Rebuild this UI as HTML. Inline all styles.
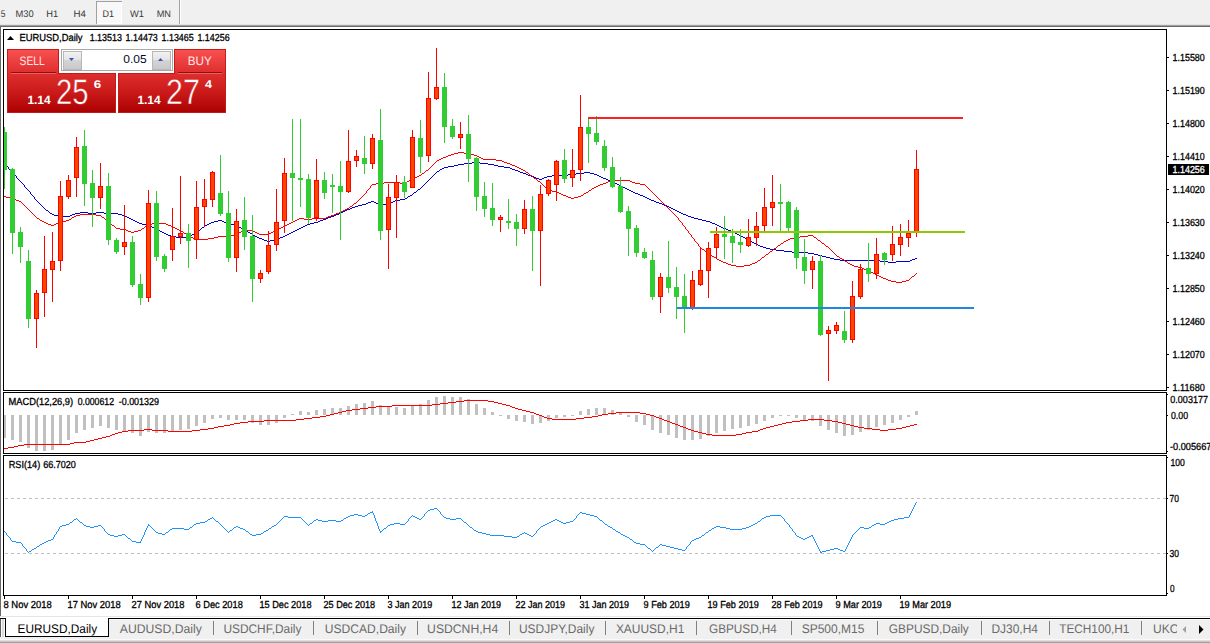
<!DOCTYPE html><html><head><meta charset="utf-8"><title>EURUSD,Daily</title>
<style>html,body{margin:0;padding:0;background:#fff;overflow:hidden}svg{display:block}text{font-family:"Liberation Sans",sans-serif;white-space:pre;text-rendering:geometricPrecision}</style></head><body>
<svg width="1210" height="643" viewBox="0 0 1210 643">
<defs>
<linearGradient id="gr" gradientUnits="userSpaceOnUse" x1="0" y1="49" x2="0" y2="113"><stop offset="0" stop-color="#fa5252"/><stop offset="0.35" stop-color="#e03030"/><stop offset="0.7" stop-color="#c81818"/><stop offset="1" stop-color="#aa0000"/></linearGradient>
<linearGradient id="gb" x1="0" y1="0" x2="0" y2="1"><stop offset="0" stop-color="#f2f2f2"/><stop offset="0.45" stop-color="#e4e4e4"/><stop offset="0.5" stop-color="#d4d4d4"/><stop offset="1" stop-color="#c8c8c8"/></linearGradient>
<clipPath id="cp"><rect x="4" y="30" width="1162" height="360"/></clipPath>
<clipPath id="ct"><rect x="0" y="619" width="1177" height="24"/></clipPath>
</defs>
<g shape-rendering="crispEdges">
<rect x="0" y="0" width="1210" height="643" fill="#fff" />
<rect x="0" y="0" width="1210" height="25" fill="#f0f0f0" />
<rect x="0" y="24" width="1210" height="1" fill="#e3e3e3" />
<rect x="0" y="25" width="1210" height="1" fill="#a0a0a0" />
<rect x="0" y="26" width="1210" height="1" fill="#696969" />
<rect x="0" y="26" width="1" height="590" fill="#696969" />
<rect x="179" y="0" width="1" height="24" fill="#a0a0a0" />
<rect x="180" y="0" width="1" height="24" fill="#fff" />
<rect x="96" y="1" width="26" height="23" fill="#f8f8f8" />
<rect x="96" y="1" width="26" height="1" fill="#a0a0a0" />
<rect x="96" y="1" width="1" height="23" fill="#a0a0a0" />
<rect x="121" y="2" width="1" height="22" fill="#fff" />
<rect x="97" y="23" width="25" height="1" fill="#fff" />
</g>
<text x="0.8" y="17" font-size="9.6" fill="#383838" textLength="4.7" lengthAdjust="spacingAndGlyphs" >5</text>
<text x="15.4" y="17" font-size="9.6" fill="#383838" textLength="18.2" lengthAdjust="spacingAndGlyphs" >M30</text>
<text x="46.3" y="17" font-size="9.6" fill="#383838" textLength="11.9" lengthAdjust="spacingAndGlyphs" >H1</text>
<text x="73.6" y="17" font-size="9.6" fill="#383838" textLength="12.4" lengthAdjust="spacingAndGlyphs" >H4</text>
<text x="102.5" y="17" font-size="9.6" fill="#383838" textLength="11.5" lengthAdjust="spacingAndGlyphs" >D1</text>
<text x="130" y="17" font-size="9.6" fill="#383838" textLength="14" lengthAdjust="spacingAndGlyphs" >W1</text>
<text x="156.7" y="17" font-size="9.6" fill="#383838" textLength="14.3" lengthAdjust="spacingAndGlyphs" >MN</text>
<g shape-rendering="crispEdges">
<rect x="3" y="29" width="1164" height="1" fill="#000" />
<rect x="3" y="390" width="1164" height="1" fill="#000" />
<rect x="3" y="29" width="1" height="362" fill="#000" />
<rect x="1166" y="29" width="1" height="362" fill="#000" />
<rect x="3" y="392" width="1164" height="1" fill="#000" />
<rect x="3" y="453" width="1164" height="1" fill="#000" />
<rect x="3" y="392" width="1" height="62" fill="#000" />
<rect x="1166" y="392" width="1" height="62" fill="#000" />
<rect x="3" y="455" width="1164" height="1" fill="#000" />
<rect x="3" y="595" width="1164" height="1" fill="#000" />
<rect x="3" y="455" width="1" height="141" fill="#000" />
<rect x="1166" y="455" width="1" height="141" fill="#000" />
<rect x="1167" y="57" width="2" height="1" fill="#000" />
<rect x="1167" y="90" width="2" height="1" fill="#000" />
<rect x="1167" y="123" width="2" height="1" fill="#000" />
<rect x="1167" y="156" width="2" height="1" fill="#000" />
<rect x="1167" y="189" width="2" height="1" fill="#000" />
<rect x="1167" y="222" width="2" height="1" fill="#000" />
<rect x="1167" y="255" width="2" height="1" fill="#000" />
<rect x="1167" y="288" width="2" height="1" fill="#000" />
<rect x="1167" y="321" width="2" height="1" fill="#000" />
<rect x="1167" y="354" width="2" height="1" fill="#000" />
<rect x="1167" y="387" width="2" height="1" fill="#000" />
<rect x="1167" y="394" width="1" height="1" fill="#000" />
<rect x="1167" y="415" width="1" height="1" fill="#000" />
<rect x="1167" y="451" width="1" height="1" fill="#000" />
<rect x="1167" y="457" width="1" height="1" fill="#000" />
<rect x="1167" y="498" width="1" height="1" fill="#000" />
<rect x="1167" y="553" width="1" height="1" fill="#000" />
<rect x="1167" y="593" width="1" height="1" fill="#000" />
<rect x="4" y="596" width="1" height="3" fill="#000" />
<rect x="68" y="596" width="1" height="3" fill="#000" />
<rect x="132" y="596" width="1" height="3" fill="#000" />
<rect x="196" y="596" width="1" height="3" fill="#000" />
<rect x="260" y="596" width="1" height="3" fill="#000" />
<rect x="324" y="596" width="1" height="3" fill="#000" />
<rect x="388" y="596" width="1" height="3" fill="#000" />
<rect x="452" y="596" width="1" height="3" fill="#000" />
<rect x="516" y="596" width="1" height="3" fill="#000" />
<rect x="580" y="596" width="1" height="3" fill="#000" />
<rect x="644" y="596" width="1" height="3" fill="#000" />
<rect x="708" y="596" width="1" height="3" fill="#000" />
<rect x="772" y="596" width="1" height="3" fill="#000" />
<rect x="836" y="596" width="1" height="3" fill="#000" />
<rect x="900" y="596" width="1" height="3" fill="#000" />
</g>
<g shape-rendering="crispEdges" clip-path="url(#cp)">
<path d="M24 185h1v2h-1zM16 176h1v2h-1zM8 167h1v2h-1zM34 197h1v2h-1zM30 192h1v2h-1zM171 236h5v1h-5zM189 236h2v1h-2zM255 236h2v1h-2zM283 236h2v1h-2zM741 236h2v1h-2zM42 206h1v1h-1zM355 206h3v1h-3zM667 206h2v1h-2zM162 232h2v1h-2zM196 232h1v1h-1zM248 232h2v1h-2zM291 232h2v1h-2zM733 232h2v1h-2zM164 233h2v1h-2zM194 233h2v1h-2zM250 233h2v1h-2zM289 233h2v1h-2zM735 233h2v1h-2zM28 190h1v1h-1zM417 190h1v1h-1zM629 190h2v1h-2zM413 193h1v1h-1zM635 193h3v1h-3zM784 251h8v1h-8zM444 167h4v1h-4zM504 167h6v1h-6zM259 238h3v1h-3zM278 238h2v1h-2zM745 238h2v1h-2zM4 163h1v1h-1zM464 163h8v1h-8zM480 163h8v1h-8zM38 202h1v1h-1zM368 202h3v1h-3zM374 202h2v1h-2zM391 202h2v1h-2zM656 202h3v1h-3zM18 179h1v1h-1zM429 179h1v1h-1zM539 179h3v1h-3zM606 179h2v1h-2zM25 187h1v1h-1zM421 187h1v1h-1zM623 187h2v1h-2zM139 223h3v1h-3zM209 223h2v1h-2zM227 223h3v1h-3zM310 223h4v1h-4zM712 223h3v1h-3zM760 246h3v1h-3zM32 195h1v1h-1zM410 195h2v1h-2zM640 195h3v1h-3zM472 162h8v1h-8zM752 242h2v1h-2zM840 260h40v1h-40zM910 260h2v1h-2zM880 261h8v1h-8zM896 261h14v1h-14zM157 229h2v1h-2zM200 229h1v1h-1zM243 229h2v1h-2zM297 229h2v1h-2zM726 229h2v1h-2zM814 254h4v1h-4zM137 222h2v1h-2zM211 222h3v1h-3zM224 222h3v1h-3zM314 222h4v1h-4zM710 222h2v1h-2zM168 235h3v1h-3zM191 235h1v1h-1zM253 235h2v1h-2zM285 235h2v1h-2zM739 235h2v1h-2zM129 218h2v1h-2zM326 218h2v1h-2zM694 218h4v1h-4zM160 231h2v1h-2zM197 231h1v1h-1zM247 231h1v1h-1zM293 231h2v1h-2zM731 231h2v1h-2zM37 201h1v1h-1zM371 201h3v1h-3zM393 201h2v1h-2zM654 201h2v1h-2zM142 224h4v1h-4zM207 224h2v1h-2zM230 224h4v1h-4zM307 224h3v1h-3zM715 224h2v1h-2zM166 234h2v1h-2zM192 234h2v1h-2zM252 234h1v1h-1zM287 234h2v1h-2zM737 234h2v1h-2zM40 204h1v1h-1zM362 204h4v1h-4zM379 204h10v1h-10zM662 204h2v1h-2zM15 175h1v1h-1zM433 175h1v1h-1zM528 175h3v1h-3zM552 175h16v1h-16zM597 175h2v1h-2zM5 164h1v1h-1zM458 164h6v1h-6zM488 164h6v1h-6zM46 210h2v1h-2zM345 210h2v1h-2zM675 210h2v1h-2zM50 213h2v1h-2zM75 213h5v1h-5zM88 213h8v1h-8zM104 213h14v1h-14zM339 213h2v1h-2zM681 213h2v1h-2zM58 216h12v1h-12zM125 216h2v1h-2zM331 216h3v1h-3zM688 216h3v1h-3zM135 221h2v1h-2zM214 221h4v1h-4zM222 221h2v1h-2zM318 221h2v1h-2zM706 221h4v1h-4zM7 166h1v1h-1zM448 166h6v1h-6zM498 166h6v1h-6zM23 184h1v1h-1zM424 184h1v1h-1zM617 184h2v1h-2zM264 240h3v1h-3zM270 240h4v1h-4zM749 240h2v1h-2zM19 180h1v1h-1zM428 180h1v1h-1zM608 180h3v1h-3zM14 174h1v1h-1zM434 174h1v1h-1zM526 174h2v1h-2zM568 174h8v1h-8zM594 174h3v1h-3zM763 247h3v1h-3zM39 203h1v1h-1zM366 203h2v1h-2zM376 203h3v1h-3zM389 203h2v1h-2zM659 203h3v1h-3zM35 199h1v1h-1zM400 199h5v1h-5zM649 199h2v1h-2zM431 177h1v1h-1zM534 177h2v1h-2zM544 177h3v1h-3zM601 177h2v1h-2zM52 214h2v1h-2zM72 214h3v1h-3zM118 214h4v1h-4zM336 214h3v1h-3zM683 214h3v1h-3zM262 239h2v1h-2zM274 239h4v1h-4zM747 239h2v1h-2zM17 178h1v1h-1zM430 178h1v1h-1zM536 178h3v1h-3zM542 178h2v1h-2zM603 178h3v1h-3zM36 200h1v1h-1zM395 200h5v1h-5zM651 200h3v1h-3zM146 225h4v1h-4zM205 225h2v1h-2zM234 225h3v1h-3zM305 225h2v1h-2zM717 225h2v1h-2zM766 248h4v1h-4zM48 211h1v1h-1zM343 211h2v1h-2zM677 211h2v1h-2zM44 208h1v1h-1zM350 208h2v1h-2zM671 208h2v1h-2zM21 182h1v1h-1zM426 182h1v1h-1zM613 182h2v1h-2zM888 262h8v1h-8zM133 220h2v1h-2zM218 220h4v1h-4zM320 220h3v1h-3zM702 220h4v1h-4zM152 227h3v1h-3zM202 227h2v1h-2zM239 227h2v1h-2zM301 227h2v1h-2zM721 227h2v1h-2zM407 197h1v1h-1zM645 197h2v1h-2zM13 173h1v1h-1zM435 173h1v1h-1zM523 173h3v1h-3zM576 173h8v1h-8zM590 173h4v1h-4zM49 212h1v1h-1zM80 212h8v1h-8zM96 212h8v1h-8zM341 212h2v1h-2zM679 212h2v1h-2zM176 237h13v1h-13zM257 237h2v1h-2zM280 237h3v1h-3zM743 237h2v1h-2zM10 170h1v1h-1zM439 170h1v1h-1zM515 170h3v1h-3zM159 230h1v1h-1zM198 230h2v1h-2zM245 230h2v1h-2zM295 230h2v1h-2zM728 230h3v1h-3zM27 189h1v1h-1zM418 189h2v1h-2zM627 189h2v1h-2zM776 250h8v1h-8zM6 165h1v1h-1zM454 165h4v1h-4zM494 165h4v1h-4zM43 207h1v1h-1zM352 207h3v1h-3zM669 207h2v1h-2zM792 252h16v1h-16zM822 256h4v1h-4zM155 228h2v1h-2zM201 228h1v1h-1zM241 228h2v1h-2zM299 228h2v1h-2zM723 228h3v1h-3zM150 226h2v1h-2zM204 226h1v1h-1zM237 226h2v1h-2zM303 226h2v1h-2zM719 226h2v1h-2zM834 259h6v1h-6zM912 259h3v1h-3zM41 205h1v1h-1zM358 205h4v1h-4zM664 205h3v1h-3zM442 168h2v1h-2zM510 168h2v1h-2zM127 217h2v1h-2zM328 217h3v1h-3zM691 217h3v1h-3zM423 185h1v1h-1zM619 185h2v1h-2zM9 169h1v1h-1zM440 169h2v1h-2zM512 169h3v1h-3zM830 258h4v1h-4zM915 258h2v1h-2zM12 172h1v1h-1zM436 172h1v1h-1zM520 172h3v1h-3zM584 172h6v1h-6zM770 249h6v1h-6zM826 257h4v1h-4zM432 176h1v1h-1zM531 176h3v1h-3zM547 176h5v1h-5zM599 176h2v1h-2zM131 219h2v1h-2zM323 219h3v1h-3zM698 219h4v1h-4zM11 171h1v1h-1zM437 171h2v1h-2zM518 171h2v1h-2zM45 209h1v1h-1zM347 209h3v1h-3zM673 209h2v1h-2zM808 253h6v1h-6zM26 188h1v1h-1zM420 188h1v1h-1zM625 188h2v1h-2zM22 183h1v1h-1zM425 183h1v1h-1zM615 183h2v1h-2zM54 215h4v1h-4zM70 215h2v1h-2zM122 215h3v1h-3zM334 215h2v1h-2zM686 215h2v1h-2zM414 192h2v1h-2zM633 192h2v1h-2zM758 245h2v1h-2zM405 198h2v1h-2zM647 198h2v1h-2zM31 194h1v1h-1zM412 194h1v1h-1zM638 194h2v1h-2zM422 186h1v1h-1zM621 186h2v1h-2zM29 191h1v1h-1zM416 191h1v1h-1zM631 191h2v1h-2zM754 243h2v1h-2zM818 255h4v1h-4zM267 241h3v1h-3zM751 241h1v1h-1zM20 181h1v1h-1zM427 181h1v1h-1zM611 181h2v1h-2zM33 196h1v1h-1zM408 196h2v1h-2zM643 196h2v1h-2zM756 244h2v1h-2z" fill="#0000cd" />
<path d="M366 191h1v2h-1zM685 227h1v2h-1zM694 239h1v2h-1zM698 244h1v2h-1zM678 218h1v2h-1zM688 231h1v2h-1zM370 186h1v2h-1zM691 235h1v2h-1zM682 223h1v2h-1zM409 180h2v1h-2zM537 180h1v1h-1zM611 180h19v1h-19zM372 184h4v1h-4zM542 184h1v1h-1zM600 184h3v1h-3zM640 184h5v1h-5zM709 254h2v1h-2zM766 254h2v1h-2zM835 254h1v1h-1zM545 187h1v1h-1zM594 187h2v1h-2zM647 187h1v1h-1zM186 234h2v1h-2zM234 234h3v1h-3zM259 234h10v1h-10zM690 234h1v1h-1zM37 218h2v1h-2zM71 218h1v1h-1zM104 218h1v1h-1zM299 218h5v1h-5zM312 218h14v1h-14zM557 192h2v1h-2zM586 192h2v1h-2zM652 192h1v1h-1zM14 199h2v1h-2zM359 199h1v1h-1zM659 199h1v1h-1zM42 221h2v1h-2zM62 221h4v1h-4zM108 221h1v1h-1zM293 221h2v1h-2zM680 221h1v1h-1zM896 282h6v1h-6zM6 197h4v1h-4zM361 197h1v1h-1zM568 197h3v1h-3zM574 197h4v1h-4zM657 197h1v1h-1zM10 198h4v1h-4zM360 198h1v1h-1zM571 198h3v1h-3zM658 198h1v1h-1zM189 236h2v1h-2zM218 236h12v1h-12zM800 236h8v1h-8zM813 236h1v1h-1zM33 214h1v1h-1zM80 214h16v1h-16zM334 214h2v1h-2zM674 214h1v1h-1zM376 183h8v1h-8zM400 183h5v1h-5zM541 183h1v1h-1zM603 183h3v1h-3zM635 183h5v1h-5zM432 165h1v1h-1zM512 165h3v1h-3zM32 213h1v1h-1zM336 213h3v1h-3zM673 213h1v1h-1zM191 237h2v1h-2zM214 237h4v1h-4zM692 237h1v1h-1zM794 237h6v1h-6zM814 237h2v1h-2zM701 248h1v1h-1zM774 248h2v1h-2zM829 248h1v1h-1zM726 263h2v1h-2zM752 263h3v1h-3zM848 263h2v1h-2zM195 239h13v1h-13zM788 239h2v1h-2zM817 239h1v1h-1zM723 262h3v1h-3zM755 262h2v1h-2zM847 262h1v1h-1zM443 157h3v1h-3zM479 157h2v1h-2zM384 182h16v1h-16zM405 182h2v1h-2zM540 182h1v1h-1zM606 182h2v1h-2zM632 182h3v1h-3zM126 230h2v1h-2zM138 230h3v1h-3zM179 230h2v1h-2zM243 230h10v1h-10zM275 230h2v1h-2zM687 230h1v1h-1zM786 240h2v1h-2zM818 240h2v1h-2zM46 223h2v1h-2zM56 223h3v1h-3zM110 223h1v1h-1zM152 223h14v1h-14zM289 223h2v1h-2zM696 242h1v1h-1zM783 242h1v1h-1zM821 242h1v1h-1zM778 245h2v1h-2zM825 245h1v1h-1zM116 228h4v1h-4zM142 228h2v1h-2zM175 228h2v1h-2zM279 228h2v1h-2zM425 171h1v1h-1zM525 171h1v1h-1zM193 238h2v1h-2zM208 238h6v1h-6zM693 238h1v1h-1zM790 238h4v1h-4zM816 238h1v1h-1zM25 206h1v1h-1zM350 206h2v1h-2zM666 206h1v1h-1zM417 176h2v1h-2zM532 176h1v1h-1zM717 259h2v1h-2zM760 259h1v1h-1zM842 259h2v1h-2zM736 266h8v1h-8zM854 266h4v1h-4zM363 195h1v1h-1zM563 195h3v1h-3zM581 195h2v1h-2zM655 195h1v1h-1zM552 191h5v1h-5zM588 191h1v1h-1zM651 191h1v1h-1zM369 188h1v1h-1zM546 188h1v1h-1zM592 188h2v1h-2zM648 188h1v1h-1zM439 159h2v1h-2zM483 159h13v1h-13zM435 162h1v1h-1zM504 162h3v1h-3zM184 233h2v1h-2zM237 233h2v1h-2zM257 233h2v1h-2zM269 233h2v1h-2zM689 233h1v1h-1zM706 252h2v1h-2zM769 252h1v1h-1zM833 252h1v1h-1zM422 173h2v1h-2zM528 173h1v1h-1zM454 153h4v1h-4zM464 153h6v1h-6zM16 200h3v1h-3zM358 200h1v1h-1zM660 200h1v1h-1zM40 220h2v1h-2zM66 220h3v1h-3zM106 220h2v1h-2zM295 220h2v1h-2zM679 220h1v1h-1zM128 231h3v1h-3zM134 231h4v1h-4zM181 231h2v1h-2zM241 231h2v1h-2zM253 231h2v1h-2zM273 231h2v1h-2zM728 264h3v1h-3zM750 264h2v1h-2zM850 264h2v1h-2zM39 219h1v1h-1zM69 219h2v1h-2zM105 219h1v1h-1zM297 219h2v1h-2zM304 219h8v1h-8zM365 193h1v1h-1zM559 193h2v1h-2zM584 193h2v1h-2zM653 193h1v1h-1zM437 160h2v1h-2zM496 160h6v1h-6zM419 175h2v1h-2zM530 175h2v1h-2zM368 189h1v1h-1zM547 189h1v1h-1zM591 189h1v1h-1zM649 189h1v1h-1zM34 215h1v1h-1zM76 215h4v1h-4zM96 215h5v1h-5zM331 215h3v1h-3zM675 215h1v1h-1zM364 194h1v1h-1zM561 194h2v1h-2zM583 194h1v1h-1zM654 194h1v1h-1zM731 265h5v1h-5zM744 265h6v1h-6zM852 265h2v1h-2zM131 232h3v1h-3zM183 232h1v1h-1zM239 232h2v1h-2zM255 232h2v1h-2zM271 232h2v1h-2zM426 170h2v1h-2zM523 170h2v1h-2zM705 251h1v1h-1zM770 251h2v1h-2zM832 251h1v1h-1zM424 172h1v1h-1zM526 172h2v1h-2zM36 217h1v1h-1zM72 217h2v1h-2zM102 217h2v1h-2zM326 217h2v1h-2zM677 217h1v1h-1zM458 152h6v1h-6zM44 222h2v1h-2zM59 222h3v1h-3zM109 222h1v1h-1zM291 222h2v1h-2zM681 222h1v1h-1zM51 225h3v1h-3zM112 225h2v1h-2zM146 225h2v1h-2zM168 225h3v1h-3zM285 225h2v1h-2zM683 225h1v1h-1zM702 249h2v1h-2zM773 249h1v1h-1zM830 249h1v1h-1zM413 178h2v1h-2zM534 178h2v1h-2zM429 168h1v1h-1zM519 168h2v1h-2zM433 164h1v1h-1zM510 164h2v1h-2zM695 241h1v1h-1zM784 241h2v1h-2zM820 241h1v1h-1zM115 227h1v1h-1zM144 227h1v1h-1zM173 227h2v1h-2zM281 227h2v1h-2zM28 209h1v1h-1zM345 209h2v1h-2zM669 209h1v1h-1zM883 278h3v1h-3zM910 278h1v1h-1zM188 235h1v1h-1zM230 235h4v1h-4zM808 235h5v1h-5zM431 166h1v1h-1zM515 166h2v1h-2zM858 267h4v1h-4zM704 250h1v1h-1zM772 250h1v1h-1zM831 250h1v1h-1zM4 196h2v1h-2zM362 196h1v1h-1zM566 196h2v1h-2zM578 196h3v1h-3zM656 196h1v1h-1zM367 190h1v1h-1zM548 190h4v1h-4zM589 190h2v1h-2zM650 190h1v1h-1zM877 275h2v1h-2zM914 275h1v1h-1zM434 163h1v1h-1zM507 163h3v1h-3zM544 186h1v1h-1zM596 186h2v1h-2zM646 186h1v1h-1zM48 224h3v1h-3zM54 224h2v1h-2zM111 224h1v1h-1zM148 224h4v1h-4zM166 224h2v1h-2zM287 224h2v1h-2zM451 154h3v1h-3zM470 154h4v1h-4zM19 201h2v1h-2zM357 201h1v1h-1zM661 201h1v1h-1zM430 167h1v1h-1zM517 167h2v1h-2zM721 261h2v1h-2zM757 261h1v1h-1zM845 261h2v1h-2zM114 226h1v1h-1zM145 226h1v1h-1zM171 226h2v1h-2zM283 226h2v1h-2zM684 226h1v1h-1zM120 229h6v1h-6zM141 229h1v1h-1zM177 229h2v1h-2zM277 229h2v1h-2zM686 229h1v1h-1zM446 156h2v1h-2zM477 156h2v1h-2zM26 207h1v1h-1zM349 207h1v1h-1zM667 207h1v1h-1zM864 269h3v1h-3zM415 177h2v1h-2zM533 177h1v1h-1zM719 260h2v1h-2zM758 260h2v1h-2zM844 260h1v1h-1zM428 169h1v1h-1zM521 169h2v1h-2zM30 211h1v1h-1zM341 211h2v1h-2zM671 211h1v1h-1zM27 208h1v1h-1zM347 208h2v1h-2zM668 208h1v1h-1zM441 158h2v1h-2zM481 158h2v1h-2zM407 181h2v1h-2zM538 181h2v1h-2zM608 181h3v1h-3zM630 181h2v1h-2zM22 203h1v1h-1zM354 203h2v1h-2zM663 203h1v1h-1zM714 257h2v1h-2zM762 257h2v1h-2zM839 257h1v1h-1zM888 280h3v1h-3zM906 280h3v1h-3zM712 256h2v1h-2zM764 256h1v1h-1zM837 256h2v1h-2zM411 179h2v1h-2zM536 179h1v1h-1zM21 202h1v1h-1zM356 202h1v1h-1zM662 202h1v1h-1zM891 281h5v1h-5zM902 281h4v1h-4zM716 258h1v1h-1zM761 258h1v1h-1zM840 258h2v1h-2zM875 274h2v1h-2zM915 274h1v1h-1zM35 216h1v1h-1zM74 216h2v1h-2zM101 216h1v1h-1zM328 216h3v1h-3zM676 216h1v1h-1zM699 246h1v1h-1zM777 246h1v1h-1zM826 246h2v1h-2zM886 279h2v1h-2zM909 279h1v1h-1zM697 243h1v1h-1zM781 243h2v1h-2zM822 243h2v1h-2zM879 276h2v1h-2zM912 276h2v1h-2zM871 272h2v1h-2zM448 155h3v1h-3zM474 155h3v1h-3zM867 270h2v1h-2zM873 273h2v1h-2zM916 273h1v1h-1zM708 253h1v1h-1zM768 253h1v1h-1zM834 253h1v1h-1zM436 161h1v1h-1zM502 161h2v1h-2zM371 185h1v1h-1zM543 185h1v1h-1zM598 185h2v1h-2zM645 185h1v1h-1zM700 247h1v1h-1zM776 247h1v1h-1zM828 247h1v1h-1zM29 210h1v1h-1zM343 210h2v1h-2zM670 210h1v1h-1zM862 268h2v1h-2zM780 244h1v1h-1zM824 244h1v1h-1zM881 277h2v1h-2zM911 277h1v1h-1zM869 271h2v1h-2zM711 255h1v1h-1zM765 255h1v1h-1zM836 255h1v1h-1zM31 212h1v1h-1zM339 212h2v1h-2zM672 212h1v1h-1zM23 204h1v1h-1zM353 204h1v1h-1zM664 204h1v1h-1zM24 205h1v1h-1zM352 205h1v1h-1zM665 205h1v1h-1zM421 174h1v1h-1zM529 174h1v1h-1z" fill="#ff0000" />
</g>
<g shape-rendering="crispEdges" clip-path="url(#cp)">
<rect x="4" y="127" width="1" height="62" fill="#32cd32" />
<rect x="2" y="132" width="5" height="38" fill="#32cd32" />
<rect x="12" y="168" width="1" height="86" fill="#32cd32" />
<rect x="10" y="169" width="5" height="64" fill="#32cd32" />
<rect x="20" y="227" width="1" height="36" fill="#32cd32" />
<rect x="18" y="232" width="5" height="15" fill="#32cd32" />
<rect x="28" y="250" width="1" height="78" fill="#32cd32" />
<rect x="26" y="261" width="5" height="58" fill="#32cd32" />
<rect x="36" y="290" width="1" height="58" fill="#ff0000" />
<rect x="34" y="293" width="5" height="26" fill="#ff0000" />
<rect x="35" y="294" width="3" height="24" fill="#ff4500" />
<rect x="44" y="236" width="1" height="81" fill="#ff0000" />
<rect x="42" y="269" width="5" height="24" fill="#ff0000" />
<rect x="43" y="270" width="3" height="22" fill="#ff4500" />
<rect x="52" y="232" width="1" height="70" fill="#ff0000" />
<rect x="50" y="261" width="5" height="9" fill="#ff0000" />
<rect x="51" y="262" width="3" height="7" fill="#ff4500" />
<rect x="60" y="181" width="1" height="90" fill="#ff0000" />
<rect x="58" y="196" width="5" height="65" fill="#ff0000" />
<rect x="59" y="197" width="3" height="63" fill="#ff4500" />
<rect x="68" y="175" width="1" height="24" fill="#ff0000" />
<rect x="66" y="180" width="5" height="17" fill="#ff0000" />
<rect x="67" y="181" width="3" height="15" fill="#ff4500" />
<rect x="76" y="137" width="1" height="60" fill="#ff0000" />
<rect x="74" y="147" width="5" height="31" fill="#ff0000" />
<rect x="75" y="148" width="3" height="29" fill="#ff4500" />
<rect x="84" y="130" width="1" height="76" fill="#32cd32" />
<rect x="82" y="146" width="5" height="38" fill="#32cd32" />
<rect x="92" y="170" width="1" height="57" fill="#32cd32" />
<rect x="90" y="183" width="5" height="15" fill="#32cd32" />
<rect x="100" y="163" width="1" height="46" fill="#ff0000" />
<rect x="98" y="186" width="5" height="12" fill="#ff0000" />
<rect x="99" y="187" width="3" height="10" fill="#ff4500" />
<rect x="108" y="173" width="1" height="72" fill="#32cd32" />
<rect x="106" y="186" width="5" height="54" fill="#32cd32" />
<rect x="116" y="238" width="1" height="16" fill="#32cd32" />
<rect x="114" y="240" width="5" height="12" fill="#32cd32" />
<rect x="124" y="205" width="1" height="50" fill="#ff0000" />
<rect x="122" y="242" width="5" height="5" fill="#ff0000" />
<rect x="123" y="243" width="3" height="3" fill="#ff4500" />
<rect x="132" y="236" width="1" height="51" fill="#32cd32" />
<rect x="130" y="242" width="5" height="43" fill="#32cd32" />
<rect x="140" y="274" width="1" height="31" fill="#32cd32" />
<rect x="138" y="284" width="5" height="14" fill="#32cd32" />
<rect x="148" y="190" width="1" height="112" fill="#ff0000" />
<rect x="146" y="203" width="5" height="95" fill="#ff0000" />
<rect x="147" y="204" width="3" height="93" fill="#ff4500" />
<rect x="156" y="191" width="1" height="70" fill="#32cd32" />
<rect x="154" y="203" width="5" height="54" fill="#32cd32" />
<rect x="164" y="254" width="1" height="18" fill="#32cd32" />
<rect x="162" y="256" width="5" height="13" fill="#32cd32" />
<rect x="172" y="208" width="1" height="53" fill="#ff0000" />
<rect x="170" y="236" width="5" height="14" fill="#ff0000" />
<rect x="171" y="237" width="3" height="12" fill="#ff4500" />
<rect x="180" y="176" width="1" height="68" fill="#ff0000" />
<rect x="178" y="233" width="5" height="4" fill="#ff0000" />
<rect x="179" y="234" width="3" height="2" fill="#ff4500" />
<rect x="188" y="224" width="1" height="44" fill="#32cd32" />
<rect x="186" y="233" width="5" height="8" fill="#32cd32" />
<rect x="196" y="181" width="1" height="78" fill="#ff0000" />
<rect x="194" y="207" width="5" height="33" fill="#ff0000" />
<rect x="195" y="208" width="3" height="31" fill="#ff4500" />
<rect x="204" y="179" width="1" height="48" fill="#ff0000" />
<rect x="202" y="199" width="5" height="8" fill="#ff0000" />
<rect x="203" y="200" width="3" height="6" fill="#ff4500" />
<rect x="212" y="171" width="1" height="36" fill="#ff0000" />
<rect x="210" y="172" width="5" height="28" fill="#ff0000" />
<rect x="211" y="173" width="3" height="26" fill="#ff4500" />
<rect x="220" y="155" width="1" height="61" fill="#32cd32" />
<rect x="218" y="193" width="5" height="21" fill="#32cd32" />
<rect x="228" y="191" width="1" height="71" fill="#32cd32" />
<rect x="226" y="213" width="5" height="45" fill="#32cd32" />
<rect x="236" y="209" width="1" height="63" fill="#ff0000" />
<rect x="234" y="221" width="5" height="37" fill="#ff0000" />
<rect x="235" y="222" width="3" height="35" fill="#ff4500" />
<rect x="244" y="197" width="1" height="53" fill="#32cd32" />
<rect x="242" y="220" width="5" height="17" fill="#32cd32" />
<rect x="252" y="215" width="1" height="87" fill="#32cd32" />
<rect x="250" y="236" width="5" height="43" fill="#32cd32" />
<rect x="260" y="270" width="1" height="13" fill="#ff0000" />
<rect x="258" y="273" width="5" height="6" fill="#ff0000" />
<rect x="259" y="274" width="3" height="4" fill="#ff4500" />
<rect x="268" y="231" width="1" height="43" fill="#ff0000" />
<rect x="266" y="245" width="5" height="27" fill="#ff0000" />
<rect x="267" y="246" width="3" height="25" fill="#ff4500" />
<rect x="276" y="189" width="1" height="62" fill="#ff0000" />
<rect x="274" y="222" width="5" height="23" fill="#ff0000" />
<rect x="275" y="223" width="3" height="21" fill="#ff4500" />
<rect x="284" y="158" width="1" height="75" fill="#ff0000" />
<rect x="282" y="173" width="5" height="48" fill="#ff0000" />
<rect x="283" y="174" width="3" height="46" fill="#ff4500" />
<rect x="292" y="119" width="1" height="102" fill="#32cd32" />
<rect x="290" y="173" width="5" height="5" fill="#32cd32" />
<rect x="300" y="119" width="1" height="88" fill="#32cd32" />
<rect x="298" y="178" width="5" height="2" fill="#32cd32" />
<rect x="308" y="174" width="1" height="50" fill="#32cd32" />
<rect x="306" y="179" width="5" height="39" fill="#32cd32" />
<rect x="316" y="159" width="1" height="62" fill="#ff0000" />
<rect x="314" y="180" width="5" height="38" fill="#ff0000" />
<rect x="315" y="181" width="3" height="36" fill="#ff4500" />
<rect x="324" y="172" width="1" height="27" fill="#32cd32" />
<rect x="322" y="180" width="5" height="13" fill="#32cd32" />
<rect x="332" y="174" width="1" height="39" fill="#32cd32" />
<rect x="330" y="185" width="5" height="2" fill="#32cd32" />
<rect x="340" y="161" width="1" height="79" fill="#32cd32" />
<rect x="338" y="186" width="5" height="6" fill="#32cd32" />
<rect x="348" y="130" width="1" height="63" fill="#ff0000" />
<rect x="346" y="161" width="5" height="31" fill="#ff0000" />
<rect x="347" y="162" width="3" height="29" fill="#ff4500" />
<rect x="356" y="150" width="1" height="17" fill="#ff0000" />
<rect x="354" y="156" width="5" height="5" fill="#ff0000" />
<rect x="355" y="157" width="3" height="3" fill="#ff4500" />
<rect x="364" y="136" width="1" height="38" fill="#32cd32" />
<rect x="362" y="158" width="5" height="6" fill="#32cd32" />
<rect x="372" y="134" width="1" height="35" fill="#ff0000" />
<rect x="370" y="138" width="5" height="26" fill="#ff0000" />
<rect x="371" y="139" width="3" height="24" fill="#ff4500" />
<rect x="380" y="109" width="1" height="131" fill="#32cd32" />
<rect x="378" y="140" width="5" height="91" fill="#32cd32" />
<rect x="388" y="184" width="1" height="85" fill="#ff0000" />
<rect x="386" y="197" width="5" height="33" fill="#ff0000" />
<rect x="387" y="198" width="3" height="31" fill="#ff4500" />
<rect x="396" y="175" width="1" height="63" fill="#ff0000" />
<rect x="394" y="182" width="5" height="16" fill="#ff0000" />
<rect x="395" y="183" width="3" height="14" fill="#ff4500" />
<rect x="404" y="176" width="1" height="22" fill="#32cd32" />
<rect x="402" y="182" width="5" height="10" fill="#32cd32" />
<rect x="412" y="130" width="1" height="58" fill="#ff0000" />
<rect x="410" y="137" width="5" height="51" fill="#ff0000" />
<rect x="411" y="138" width="3" height="49" fill="#ff4500" />
<rect x="420" y="120" width="1" height="53" fill="#32cd32" />
<rect x="418" y="138" width="5" height="19" fill="#32cd32" />
<rect x="428" y="72" width="1" height="90" fill="#ff0000" />
<rect x="426" y="98" width="5" height="58" fill="#ff0000" />
<rect x="427" y="99" width="3" height="56" fill="#ff4500" />
<rect x="436" y="48" width="1" height="52" fill="#ff0000" />
<rect x="434" y="87" width="5" height="12" fill="#ff0000" />
<rect x="435" y="88" width="3" height="10" fill="#ff4500" />
<rect x="444" y="73" width="1" height="70" fill="#32cd32" />
<rect x="442" y="87" width="5" height="40" fill="#32cd32" />
<rect x="452" y="119" width="1" height="20" fill="#32cd32" />
<rect x="450" y="126" width="5" height="11" fill="#32cd32" />
<rect x="460" y="122" width="1" height="27" fill="#ff0000" />
<rect x="458" y="134" width="5" height="4" fill="#ff0000" />
<rect x="459" y="135" width="3" height="2" fill="#ff4500" />
<rect x="468" y="115" width="1" height="67" fill="#32cd32" />
<rect x="466" y="134" width="5" height="25" fill="#32cd32" />
<rect x="476" y="157" width="1" height="54" fill="#32cd32" />
<rect x="474" y="158" width="5" height="39" fill="#32cd32" />
<rect x="484" y="182" width="1" height="35" fill="#32cd32" />
<rect x="482" y="196" width="5" height="13" fill="#32cd32" />
<rect x="492" y="183" width="1" height="43" fill="#32cd32" />
<rect x="490" y="208" width="5" height="12" fill="#32cd32" />
<rect x="500" y="215" width="1" height="17" fill="#ff0000" />
<rect x="498" y="217" width="5" height="3" fill="#ff0000" />
<rect x="499" y="218" width="3" height="1" fill="#ff4500" />
<rect x="508" y="199" width="1" height="30" fill="#32cd32" />
<rect x="506" y="221" width="5" height="2" fill="#32cd32" />
<rect x="516" y="214" width="1" height="32" fill="#32cd32" />
<rect x="514" y="222" width="5" height="7" fill="#32cd32" />
<rect x="524" y="200" width="1" height="34" fill="#ff0000" />
<rect x="522" y="209" width="5" height="20" fill="#ff0000" />
<rect x="523" y="210" width="3" height="18" fill="#ff4500" />
<rect x="532" y="196" width="1" height="75" fill="#32cd32" />
<rect x="530" y="209" width="5" height="22" fill="#32cd32" />
<rect x="540" y="185" width="1" height="101" fill="#ff0000" />
<rect x="538" y="194" width="5" height="37" fill="#ff0000" />
<rect x="539" y="195" width="3" height="35" fill="#ff4500" />
<rect x="548" y="179" width="1" height="17" fill="#ff0000" />
<rect x="546" y="180" width="5" height="14" fill="#ff0000" />
<rect x="547" y="181" width="3" height="12" fill="#ff4500" />
<rect x="556" y="160" width="1" height="41" fill="#ff0000" />
<rect x="554" y="161" width="5" height="24" fill="#ff0000" />
<rect x="555" y="162" width="3" height="22" fill="#ff4500" />
<rect x="564" y="149" width="1" height="34" fill="#32cd32" />
<rect x="562" y="160" width="5" height="19" fill="#32cd32" />
<rect x="572" y="149" width="1" height="38" fill="#ff0000" />
<rect x="570" y="170" width="5" height="8" fill="#ff0000" />
<rect x="571" y="171" width="3" height="6" fill="#ff4500" />
<rect x="580" y="95" width="1" height="86" fill="#ff0000" />
<rect x="578" y="127" width="5" height="43" fill="#ff0000" />
<rect x="579" y="128" width="3" height="41" fill="#ff4500" />
<rect x="588" y="117" width="1" height="46" fill="#32cd32" />
<rect x="586" y="127" width="5" height="7" fill="#32cd32" />
<rect x="596" y="116" width="1" height="29" fill="#32cd32" />
<rect x="594" y="133" width="5" height="9" fill="#32cd32" />
<rect x="604" y="140" width="1" height="31" fill="#32cd32" />
<rect x="602" y="146" width="5" height="22" fill="#32cd32" />
<rect x="612" y="157" width="1" height="31" fill="#32cd32" />
<rect x="610" y="167" width="5" height="20" fill="#32cd32" />
<rect x="620" y="177" width="1" height="36" fill="#32cd32" />
<rect x="618" y="186" width="5" height="26" fill="#32cd32" />
<rect x="628" y="206" width="1" height="50" fill="#32cd32" />
<rect x="626" y="211" width="5" height="18" fill="#32cd32" />
<rect x="636" y="225" width="1" height="32" fill="#32cd32" />
<rect x="634" y="228" width="5" height="25" fill="#32cd32" />
<rect x="644" y="248" width="1" height="11" fill="#32cd32" />
<rect x="642" y="252" width="5" height="6" fill="#32cd32" />
<rect x="652" y="251" width="1" height="49" fill="#32cd32" />
<rect x="650" y="260" width="5" height="37" fill="#32cd32" />
<rect x="660" y="273" width="1" height="40" fill="#ff0000" />
<rect x="658" y="277" width="5" height="20" fill="#ff0000" />
<rect x="659" y="278" width="3" height="18" fill="#ff4500" />
<rect x="668" y="241" width="1" height="52" fill="#32cd32" />
<rect x="666" y="277" width="5" height="11" fill="#32cd32" />
<rect x="676" y="267" width="1" height="52" fill="#32cd32" />
<rect x="674" y="287" width="5" height="10" fill="#32cd32" />
<rect x="684" y="274" width="1" height="59" fill="#32cd32" />
<rect x="682" y="296" width="5" height="11" fill="#32cd32" />
<rect x="692" y="271" width="1" height="39" fill="#ff0000" />
<rect x="690" y="280" width="5" height="28" fill="#ff0000" />
<rect x="691" y="281" width="3" height="26" fill="#ff4500" />
<rect x="700" y="248" width="1" height="38" fill="#ff0000" />
<rect x="698" y="270" width="5" height="15" fill="#ff0000" />
<rect x="699" y="271" width="3" height="13" fill="#ff4500" />
<rect x="708" y="242" width="1" height="56" fill="#ff0000" />
<rect x="706" y="248" width="5" height="23" fill="#ff0000" />
<rect x="707" y="249" width="3" height="21" fill="#ff4500" />
<rect x="716" y="227" width="1" height="32" fill="#ff0000" />
<rect x="714" y="234" width="5" height="14" fill="#ff0000" />
<rect x="715" y="235" width="3" height="12" fill="#ff4500" />
<rect x="724" y="216" width="1" height="43" fill="#32cd32" />
<rect x="722" y="234" width="5" height="3" fill="#32cd32" />
<rect x="732" y="229" width="1" height="34" fill="#32cd32" />
<rect x="730" y="236" width="5" height="7" fill="#32cd32" />
<rect x="740" y="229" width="1" height="24" fill="#32cd32" />
<rect x="738" y="242" width="5" height="3" fill="#32cd32" />
<rect x="748" y="219" width="1" height="28" fill="#ff0000" />
<rect x="746" y="237" width="5" height="9" fill="#ff0000" />
<rect x="747" y="238" width="3" height="7" fill="#ff4500" />
<rect x="756" y="212" width="1" height="34" fill="#ff0000" />
<rect x="754" y="226" width="5" height="12" fill="#ff0000" />
<rect x="755" y="227" width="3" height="10" fill="#ff4500" />
<rect x="764" y="188" width="1" height="43" fill="#ff0000" />
<rect x="762" y="207" width="5" height="19" fill="#ff0000" />
<rect x="763" y="208" width="3" height="17" fill="#ff4500" />
<rect x="772" y="175" width="1" height="51" fill="#ff0000" />
<rect x="770" y="202" width="5" height="6" fill="#ff0000" />
<rect x="771" y="203" width="3" height="4" fill="#ff4500" />
<rect x="780" y="184" width="1" height="47" fill="#32cd32" />
<rect x="778" y="202" width="5" height="2" fill="#32cd32" />
<rect x="788" y="201" width="1" height="30" fill="#32cd32" />
<rect x="786" y="202" width="5" height="26" fill="#32cd32" />
<rect x="796" y="207" width="1" height="62" fill="#32cd32" />
<rect x="794" y="210" width="5" height="48" fill="#32cd32" />
<rect x="804" y="239" width="1" height="45" fill="#32cd32" />
<rect x="802" y="257" width="5" height="14" fill="#32cd32" />
<rect x="812" y="256" width="1" height="33" fill="#ff0000" />
<rect x="810" y="261" width="5" height="9" fill="#ff0000" />
<rect x="811" y="262" width="3" height="7" fill="#ff4500" />
<rect x="820" y="255" width="1" height="81" fill="#32cd32" />
<rect x="818" y="261" width="5" height="74" fill="#32cd32" />
<rect x="828" y="326" width="1" height="55" fill="#ff0000" />
<rect x="826" y="330" width="5" height="4" fill="#ff0000" />
<rect x="827" y="331" width="3" height="2" fill="#ff4500" />
<rect x="836" y="322" width="1" height="12" fill="#ff0000" />
<rect x="834" y="325" width="5" height="6" fill="#ff0000" />
<rect x="835" y="326" width="3" height="4" fill="#ff4500" />
<rect x="844" y="311" width="1" height="32" fill="#32cd32" />
<rect x="842" y="331" width="5" height="9" fill="#32cd32" />
<rect x="852" y="281" width="1" height="62" fill="#ff0000" />
<rect x="850" y="296" width="5" height="44" fill="#ff0000" />
<rect x="851" y="297" width="3" height="42" fill="#ff4500" />
<rect x="860" y="264" width="1" height="35" fill="#ff0000" />
<rect x="858" y="269" width="5" height="28" fill="#ff0000" />
<rect x="859" y="270" width="3" height="26" fill="#ff4500" />
<rect x="868" y="243" width="1" height="39" fill="#32cd32" />
<rect x="866" y="268" width="5" height="6" fill="#32cd32" />
<rect x="876" y="238" width="1" height="41" fill="#ff0000" />
<rect x="874" y="254" width="5" height="20" fill="#ff0000" />
<rect x="875" y="255" width="3" height="18" fill="#ff4500" />
<rect x="884" y="252" width="1" height="13" fill="#32cd32" />
<rect x="882" y="253" width="5" height="7" fill="#32cd32" />
<rect x="892" y="226" width="1" height="35" fill="#ff0000" />
<rect x="890" y="244" width="5" height="11" fill="#ff0000" />
<rect x="891" y="245" width="3" height="9" fill="#ff4500" />
<rect x="900" y="224" width="1" height="32" fill="#ff0000" />
<rect x="898" y="237" width="5" height="8" fill="#ff0000" />
<rect x="899" y="238" width="3" height="6" fill="#ff4500" />
<rect x="908" y="220" width="1" height="27" fill="#ff0000" />
<rect x="906" y="233" width="5" height="5" fill="#ff0000" />
<rect x="907" y="234" width="3" height="3" fill="#ff4500" />
<rect x="916" y="150" width="1" height="87" fill="#ff0000" />
<rect x="914" y="169" width="5" height="63" fill="#ff0000" />
<rect x="915" y="170" width="3" height="61" fill="#ff4500" />
</g>
<g shape-rendering="crispEdges" clip-path="url(#cp)">
<rect x="588" y="117" width="375" height="2" fill="#ff2020" />
<rect x="710" y="231" width="255" height="2" fill="#90c800" />
<rect x="677" y="307" width="297" height="2" fill="#2087e0" />
</g>
<g shape-rendering="crispEdges">
<rect x="3" y="415" width="3" height="23" fill="#c0c0c0" />
<rect x="11" y="415" width="3" height="25" fill="#c0c0c0" />
<rect x="19" y="415" width="3" height="27" fill="#c0c0c0" />
<rect x="27" y="415" width="3" height="33" fill="#c0c0c0" />
<rect x="35" y="415" width="3" height="36" fill="#c0c0c0" />
<rect x="43" y="415" width="3" height="36" fill="#c0c0c0" />
<rect x="51" y="415" width="3" height="35" fill="#c0c0c0" />
<rect x="59" y="415" width="3" height="30" fill="#c0c0c0" />
<rect x="67" y="415" width="3" height="25" fill="#c0c0c0" />
<rect x="75" y="415" width="3" height="18" fill="#c0c0c0" />
<rect x="83" y="415" width="3" height="15" fill="#c0c0c0" />
<rect x="91" y="415" width="3" height="13" fill="#c0c0c0" />
<rect x="99" y="415" width="3" height="11" fill="#c0c0c0" />
<rect x="107" y="415" width="3" height="13" fill="#c0c0c0" />
<rect x="115" y="415" width="3" height="15" fill="#c0c0c0" />
<rect x="123" y="415" width="3" height="16" fill="#c0c0c0" />
<rect x="131" y="415" width="3" height="18" fill="#c0c0c0" />
<rect x="139" y="415" width="3" height="21" fill="#c0c0c0" />
<rect x="147" y="415" width="3" height="17" fill="#c0c0c0" />
<rect x="155" y="415" width="3" height="18" fill="#c0c0c0" />
<rect x="163" y="415" width="3" height="18" fill="#c0c0c0" />
<rect x="171" y="415" width="3" height="16" fill="#c0c0c0" />
<rect x="179" y="415" width="3" height="15" fill="#c0c0c0" />
<rect x="187" y="415" width="3" height="14" fill="#c0c0c0" />
<rect x="195" y="415" width="3" height="11" fill="#c0c0c0" />
<rect x="203" y="415" width="3" height="8" fill="#c0c0c0" />
<rect x="211" y="415" width="3" height="4" fill="#c0c0c0" />
<rect x="219" y="415" width="3" height="3" fill="#c0c0c0" />
<rect x="227" y="415" width="3" height="5" fill="#c0c0c0" />
<rect x="235" y="415" width="3" height="5" fill="#c0c0c0" />
<rect x="243" y="415" width="3" height="5" fill="#c0c0c0" />
<rect x="251" y="415" width="3" height="8" fill="#c0c0c0" />
<rect x="259" y="415" width="3" height="10" fill="#c0c0c0" />
<rect x="267" y="415" width="3" height="10" fill="#c0c0c0" />
<rect x="275" y="415" width="3" height="8" fill="#c0c0c0" />
<rect x="283" y="415" width="3" height="3" fill="#c0c0c0" />
<rect x="291" y="414" width="3" height="1" fill="#c0c0c0" />
<rect x="299" y="411" width="3" height="4" fill="#c0c0c0" />
<rect x="307" y="412" width="3" height="3" fill="#c0c0c0" />
<rect x="315" y="410" width="3" height="5" fill="#c0c0c0" />
<rect x="323" y="409" width="3" height="6" fill="#c0c0c0" />
<rect x="331" y="408" width="3" height="7" fill="#c0c0c0" />
<rect x="339" y="408" width="3" height="7" fill="#c0c0c0" />
<rect x="347" y="406" width="3" height="9" fill="#c0c0c0" />
<rect x="355" y="404" width="3" height="11" fill="#c0c0c0" />
<rect x="363" y="403" width="3" height="12" fill="#c0c0c0" />
<rect x="371" y="401" width="3" height="14" fill="#c0c0c0" />
<rect x="379" y="405" width="3" height="10" fill="#c0c0c0" />
<rect x="387" y="406" width="3" height="9" fill="#c0c0c0" />
<rect x="395" y="407" width="3" height="8" fill="#c0c0c0" />
<rect x="403" y="408" width="3" height="7" fill="#c0c0c0" />
<rect x="411" y="406" width="3" height="9" fill="#c0c0c0" />
<rect x="419" y="404" width="3" height="11" fill="#c0c0c0" />
<rect x="427" y="400" width="3" height="15" fill="#c0c0c0" />
<rect x="435" y="397" width="3" height="18" fill="#c0c0c0" />
<rect x="443" y="396" width="3" height="19" fill="#c0c0c0" />
<rect x="451" y="397" width="3" height="18" fill="#c0c0c0" />
<rect x="459" y="397" width="3" height="18" fill="#c0c0c0" />
<rect x="467" y="399" width="3" height="16" fill="#c0c0c0" />
<rect x="475" y="404" width="3" height="11" fill="#c0c0c0" />
<rect x="483" y="408" width="3" height="7" fill="#c0c0c0" />
<rect x="491" y="412" width="3" height="3" fill="#c0c0c0" />
<rect x="499" y="415" width="3" height="1" fill="#c0c0c0" />
<rect x="507" y="415" width="3" height="4" fill="#c0c0c0" />
<rect x="515" y="415" width="3" height="6" fill="#c0c0c0" />
<rect x="523" y="415" width="3" height="7" fill="#c0c0c0" />
<rect x="531" y="415" width="3" height="9" fill="#c0c0c0" />
<rect x="539" y="415" width="3" height="8" fill="#c0c0c0" />
<rect x="547" y="415" width="3" height="6" fill="#c0c0c0" />
<rect x="555" y="415" width="3" height="3" fill="#c0c0c0" />
<rect x="563" y="415" width="3" height="2" fill="#c0c0c0" />
<rect x="571" y="415" width="3" height="1" fill="#c0c0c0" />
<rect x="579" y="411" width="3" height="4" fill="#c0c0c0" />
<rect x="587" y="409" width="3" height="6" fill="#c0c0c0" />
<rect x="595" y="408" width="3" height="7" fill="#c0c0c0" />
<rect x="603" y="408" width="3" height="7" fill="#c0c0c0" />
<rect x="611" y="410" width="3" height="5" fill="#c0c0c0" />
<rect x="619" y="413" width="3" height="2" fill="#c0c0c0" />
<rect x="627" y="415" width="3" height="2" fill="#c0c0c0" />
<rect x="635" y="415" width="3" height="7" fill="#c0c0c0" />
<rect x="643" y="415" width="3" height="10" fill="#c0c0c0" />
<rect x="651" y="415" width="3" height="15" fill="#c0c0c0" />
<rect x="659" y="415" width="3" height="18" fill="#c0c0c0" />
<rect x="667" y="415" width="3" height="20" fill="#c0c0c0" />
<rect x="675" y="415" width="3" height="23" fill="#c0c0c0" />
<rect x="683" y="415" width="3" height="25" fill="#c0c0c0" />
<rect x="691" y="415" width="3" height="25" fill="#c0c0c0" />
<rect x="699" y="415" width="3" height="24" fill="#c0c0c0" />
<rect x="707" y="415" width="3" height="21" fill="#c0c0c0" />
<rect x="715" y="415" width="3" height="18" fill="#c0c0c0" />
<rect x="723" y="415" width="3" height="16" fill="#c0c0c0" />
<rect x="731" y="415" width="3" height="14" fill="#c0c0c0" />
<rect x="739" y="415" width="3" height="13" fill="#c0c0c0" />
<rect x="747" y="415" width="3" height="11" fill="#c0c0c0" />
<rect x="755" y="415" width="3" height="9" fill="#c0c0c0" />
<rect x="763" y="415" width="3" height="6" fill="#c0c0c0" />
<rect x="771" y="415" width="3" height="3" fill="#c0c0c0" />
<rect x="779" y="415" width="3" height="1" fill="#c0c0c0" />
<rect x="787" y="415" width="3" height="1" fill="#c0c0c0" />
<rect x="795" y="415" width="3" height="3" fill="#c0c0c0" />
<rect x="803" y="415" width="3" height="6" fill="#c0c0c0" />
<rect x="811" y="415" width="3" height="6" fill="#c0c0c0" />
<rect x="819" y="415" width="3" height="11" fill="#c0c0c0" />
<rect x="827" y="415" width="3" height="15" fill="#c0c0c0" />
<rect x="835" y="415" width="3" height="18" fill="#c0c0c0" />
<rect x="843" y="415" width="3" height="21" fill="#c0c0c0" />
<rect x="851" y="415" width="3" height="20" fill="#c0c0c0" />
<rect x="859" y="415" width="3" height="17" fill="#c0c0c0" />
<rect x="867" y="415" width="3" height="15" fill="#c0c0c0" />
<rect x="875" y="415" width="3" height="12" fill="#c0c0c0" />
<rect x="883" y="415" width="3" height="10" fill="#c0c0c0" />
<rect x="891" y="415" width="3" height="8" fill="#c0c0c0" />
<rect x="899" y="415" width="3" height="5" fill="#c0c0c0" />
<rect x="907" y="415" width="3" height="2" fill="#c0c0c0" />
<rect x="915" y="411" width="3" height="4" fill="#c0c0c0" />
<rect x="3" y="393" width="1" height="60" fill="#000" />
<path d="M296 419h8v1h-8zM552 419h24v1h-24zM662 419h2v1h-2zM808 419h16v1h-16zM4 448h4v1h-4zM360 408h8v1h-8zM515 408h3v1h-3zM122 431h6v1h-6zM168 431h24v1h-24zM694 431h4v1h-4zM752 431h6v1h-6zM264 420h32v1h-32zM664 420h3v1h-3zM800 420h8v1h-8zM824 420h8v1h-8zM392 405h40v1h-40zM506 405h4v1h-4zM94 439h4v1h-4zM330 414h4v1h-4zM536 414h3v1h-3zM602 414h6v1h-6zM646 414h4v1h-4zM112 434h3v1h-3zM706 434h6v1h-6zM736 434h6v1h-6zM346 410h6v1h-6zM522 410h4v1h-4zM110 435h2v1h-2zM712 435h24v1h-24zM440 403h8v1h-8zM498 403h4v1h-4zM240 422h8v1h-8zM670 422h2v1h-2zM786 422h6v1h-6zM838 422h4v1h-4zM334 413h4v1h-4zM534 413h2v1h-2zM608 413h8v1h-8zM640 413h6v1h-6zM464 400h24v1h-24zM448 402h8v1h-8zM494 402h4v1h-4zM304 418h8v1h-8zM547 418h5v1h-5zM576 418h8v1h-8zM659 418h3v1h-3zM368 407h8v1h-8zM512 407h3v1h-3zM144 429h8v1h-8zM200 429h8v1h-8zM688 429h3v1h-3zM760 429h3v1h-3zM872 429h8v1h-8zM888 429h8v1h-8zM342 411h4v1h-4zM526 411h4v1h-4zM214 427h4v1h-4zM683 427h3v1h-3zM766 427h4v1h-4zM858 427h6v1h-6zM902 427h4v1h-4zM24 444h46v1h-46zM320 416h6v1h-6zM542 416h2v1h-2zM592 416h6v1h-6zM654 416h2v1h-2zM74 442h12v1h-12zM218 426h6v1h-6zM680 426h3v1h-3zM770 426h4v1h-4zM854 426h4v1h-4zM906 426h4v1h-4zM128 430h16v1h-16zM152 430h16v1h-16zM192 430h8v1h-8zM691 430h3v1h-3zM758 430h2v1h-2zM880 430h8v1h-8zM106 436h4v1h-4zM234 423h6v1h-6zM672 423h3v1h-3zM782 423h4v1h-4zM842 423h4v1h-4zM312 417h8v1h-8zM544 417h3v1h-3zM584 417h8v1h-8zM656 417h3v1h-3zM376 406h16v1h-16zM510 406h2v1h-2zM118 432h4v1h-4zM698 432h4v1h-4zM746 432h6v1h-6zM230 424h4v1h-4zM675 424h3v1h-3zM778 424h4v1h-4zM846 424h4v1h-4zM914 424h3v1h-3zM432 404h8v1h-8zM502 404h4v1h-4zM338 412h4v1h-4zM530 412h4v1h-4zM616 412h24v1h-24zM18 445h6v1h-6zM326 415h4v1h-4zM539 415h3v1h-3zM598 415h4v1h-4zM650 415h4v1h-4zM352 409h8v1h-8zM518 409h4v1h-4zM248 421h16v1h-16zM667 421h3v1h-3zM792 421h8v1h-8zM832 421h6v1h-6zM456 401h8v1h-8zM488 401h6v1h-6zM208 428h6v1h-6zM686 428h2v1h-2zM763 428h3v1h-3zM864 428h8v1h-8zM896 428h6v1h-6zM14 446h4v1h-4zM115 433h3v1h-3zM702 433h4v1h-4zM742 433h4v1h-4zM102 437h4v1h-4zM224 425h6v1h-6zM678 425h2v1h-2zM774 425h4v1h-4zM850 425h4v1h-4zM910 425h4v1h-4zM90 440h4v1h-4zM98 438h4v1h-4zM70 443h4v1h-4zM86 441h4v1h-4zM8 447h6v1h-6z" fill="#ff0000" />
<path d="M5 498.5H1166M5 553.5H1166" stroke="#c0c0c0" stroke-width="1" stroke-dasharray="3 3" fill="none"/>
<path d="M22 544h1v2h-1zM820 551h1v2h-1zM376 521h1v2h-1zM144 532h1v3h-1zM912 509h1v2h-1zM53 537h1v2h-1zM56 532h1v2h-1zM380 531h1v2h-1zM536 531h1v2h-1zM140 541h1v2h-1zM686 547h1v2h-1zM440 512h1v2h-1zM10 538h1v2h-1zM379 529h1v2h-1zM911 511h1v2h-1zM375 518h1v3h-1zM819 549h1v2h-1zM816 543h1v2h-1zM849 541h1v2h-1zM424 514h1v2h-1zM143 535h1v2h-1zM378 526h1v3h-1zM690 542h1v2h-1zM374 515h1v3h-1zM146 528h1v2h-1zM576 516h1v2h-1zM815 541h1v2h-1zM915 503h1v2h-1zM789 525h1v2h-1zM59 527h1v2h-1zM848 543h1v2h-1zM408 519h1v2h-1zM818 547h1v2h-1zM104 529h1v2h-1zM910 513h1v2h-1zM6 533h1v2h-1zM852 535h1v2h-1zM817 545h1v2h-1zM914 505h1v2h-1zM814 539h1v2h-1zM847 545h1v2h-1zM145 530h1v2h-1zM792 529h1v2h-1zM377 523h1v3h-1zM26 549h1v2h-1zM58 529h1v2h-1zM909 515h1v2h-1zM373 513h1v2h-1zM851 537h1v2h-1zM813 537h1v2h-1zM913 507h1v2h-1zM148 524h1v2h-1zM846 547h1v2h-1zM372 511h1v2h-1zM812 535h1v2h-1zM850 539h1v2h-1zM147 526h1v2h-1zM845 549h1v2h-1zM142 537h1v2h-1zM795 533h1v2h-1zM54 535h1v2h-1zM784 519h1v2h-1zM141 539h1v2h-1zM350 515h4v1h-4zM358 515h4v1h-4zM365 515h2v1h-2zM412 515h1v1h-1zM442 515h1v1h-1zM577 515h1v1h-1zM590 515h4v1h-4zM770 515h11v1h-11zM72 521h1v1h-1zM79 521h1v1h-1zM205 521h2v1h-2zM216 521h2v1h-2zM279 521h1v1h-1zM304 521h1v1h-1zM313 521h1v1h-1zM322 521h6v1h-6zM336 521h5v1h-5zM407 521h1v1h-1zM463 521h1v1h-1zM551 521h2v1h-2zM559 521h2v1h-2zM570 521h3v1h-3zM602 521h1v1h-1zM758 521h2v1h-2zM785 521h1v1h-1zM889 521h2v1h-2zM39 545h1v1h-1zM645 545h1v1h-1zM659 545h1v1h-1zM662 545h4v1h-4zM688 545h1v1h-1zM916 502h1v1h-1zM12 541h4v1h-4zM46 541h2v1h-2zM132 541h4v1h-4zM633 541h1v1h-1zM691 541h1v1h-1zM62 525h4v1h-4zM84 525h2v1h-2zM98 525h3v1h-3zM149 525h1v1h-1zM193 525h1v1h-1zM221 525h1v1h-1zM274 525h2v1h-2zM308 525h1v1h-1zM388 525h2v1h-2zM468 525h1v1h-1zM543 525h2v1h-2zM607 525h1v1h-1zM751 525h2v1h-2zM872 525h2v1h-2zM212 517h1v1h-1zM283 517h1v1h-1zM288 517h13v1h-13zM346 517h2v1h-2zM410 517h1v1h-1zM415 517h2v1h-2zM422 517h1v1h-1zM444 517h2v1h-2zM597 517h1v1h-1zM764 517h2v1h-2zM782 517h1v1h-1zM904 517h5v1h-5zM434 508h3v1h-3zM73 520h1v1h-1zM78 520h1v1h-1zM207 520h1v1h-1zM215 520h1v1h-1zM280 520h1v1h-1zM303 520h1v1h-1zM314 520h2v1h-2zM318 520h4v1h-4zM328 520h8v1h-8zM341 520h2v1h-2zM462 520h1v1h-1zM553 520h2v1h-2zM557 520h2v1h-2zM573 520h1v1h-1zM600 520h2v1h-2zM760 520h1v1h-1zM891 520h3v1h-3zM16 542h5v1h-5zM44 542h2v1h-2zM136 542h4v1h-4zM634 542h2v1h-2zM368 513h2v1h-2zM425 513h1v1h-1zM579 513h1v1h-1zM582 513h4v1h-4zM90 527h4v1h-4zM102 527h1v1h-1zM151 527h1v1h-1zM190 527h2v1h-2zM223 527h1v1h-1zM234 527h2v1h-2zM238 527h2v1h-2zM271 527h1v1h-1zM386 527h1v1h-1zM470 527h2v1h-2zM540 527h1v1h-1zM610 527h2v1h-2zM714 527h2v1h-2zM720 527h6v1h-6zM746 527h3v1h-3zM790 527h1v1h-1zM860 527h4v1h-4zM869 527h2v1h-2zM28 552h1v1h-1zM821 552h1v1h-1zM5 532h1v1h-1zM106 532h1v1h-1zM156 532h2v1h-2zM166 532h2v1h-2zM228 532h1v1h-1zM248 532h1v1h-1zM263 532h1v1h-1zM478 532h4v1h-4zM524 532h1v1h-1zM618 532h2v1h-2zM706 532h2v1h-2zM794 532h1v1h-1zM855 532h1v1h-1zM51 539h2v1h-2zM130 539h1v1h-1zM630 539h2v1h-2zM694 539h2v1h-2zM803 539h2v1h-2zM103 528h1v1h-1zM152 528h1v1h-1zM172 528h12v1h-12zM189 528h1v1h-1zM224 528h1v1h-1zM233 528h1v1h-1zM240 528h3v1h-3zM269 528h2v1h-2zM384 528h2v1h-2zM472 528h1v1h-1zM539 528h1v1h-1zM612 528h1v1h-1zM712 528h2v1h-2zM726 528h4v1h-4zM742 528h4v1h-4zM791 528h1v1h-1zM859 528h1v1h-1zM864 528h5v1h-5zM55 534h1v1h-1zM108 534h2v1h-2zM122 534h3v1h-3zM162 534h3v1h-3zM250 534h2v1h-2zM256 534h5v1h-5zM486 534h4v1h-4zM520 534h2v1h-2zM527 534h2v1h-2zM534 534h1v1h-1zM621 534h2v1h-2zM704 534h1v1h-1zM853 534h1v1h-1zM70 522h2v1h-2zM80 522h2v1h-2zM200 522h5v1h-5zM218 522h1v1h-1zM278 522h1v1h-1zM305 522h1v1h-1zM312 522h1v1h-1zM406 522h1v1h-1zM464 522h2v1h-2zM549 522h2v1h-2zM561 522h2v1h-2zM566 522h4v1h-4zM603 522h1v1h-1zM757 522h1v1h-1zM786 522h1v1h-1zM887 522h2v1h-2zM76 518h1v1h-1zM210 518h2v1h-2zM213 518h1v1h-1zM282 518h1v1h-1zM301 518h1v1h-1zM344 518h2v1h-2zM409 518h1v1h-1zM417 518h2v1h-2zM421 518h1v1h-1zM446 518h4v1h-4zM456 518h5v1h-5zM575 518h1v1h-1zM598 518h1v1h-1zM762 518h2v1h-2zM783 518h1v1h-1zM898 518h6v1h-6zM430 509h4v1h-4zM437 509h1v1h-1zM66 524h3v1h-3zM83 524h1v1h-1zM194 524h2v1h-2zM220 524h1v1h-1zM276 524h1v1h-1zM307 524h1v1h-1zM309 524h1v1h-1zM390 524h4v1h-4zM400 524h5v1h-5zM467 524h1v1h-1zM545 524h2v1h-2zM605 524h2v1h-2zM753 524h2v1h-2zM788 524h1v1h-1zM874 524h2v1h-2zM880 524h5v1h-5zM32 549h2v1h-2zM650 549h1v1h-1zM654 549h1v1h-1zM678 549h4v1h-4zM685 549h1v1h-1zM830 549h4v1h-4zM838 549h2v1h-2zM21 543h1v1h-1zM42 543h2v1h-2zM636 543h4v1h-4zM7 535h1v1h-1zM110 535h4v1h-4zM118 535h4v1h-4zM125 535h1v1h-1zM252 535h4v1h-4zM490 535h14v1h-14zM519 535h1v1h-1zM529 535h2v1h-2zM533 535h1v1h-1zM623 535h2v1h-2zM702 535h2v1h-2zM796 535h1v1h-1zM811 535h1v1h-1zM74 519h2v1h-2zM77 519h1v1h-1zM208 519h2v1h-2zM214 519h1v1h-1zM281 519h1v1h-1zM302 519h1v1h-1zM316 519h2v1h-2zM343 519h1v1h-1zM419 519h2v1h-2zM450 519h6v1h-6zM461 519h1v1h-1zM555 519h2v1h-2zM574 519h1v1h-1zM599 519h1v1h-1zM761 519h1v1h-1zM894 519h4v1h-4zM60 526h2v1h-2zM86 526h4v1h-4zM94 526h4v1h-4zM101 526h1v1h-1zM150 526h1v1h-1zM192 526h1v1h-1zM222 526h1v1h-1zM236 526h2v1h-2zM272 526h2v1h-2zM387 526h1v1h-1zM469 526h1v1h-1zM541 526h2v1h-2zM608 526h2v1h-2zM716 526h4v1h-4zM749 526h2v1h-2zM871 526h1v1h-1zM153 529h1v1h-1zM170 529h2v1h-2zM184 529h5v1h-5zM225 529h1v1h-1zM232 529h1v1h-1zM243 529h2v1h-2zM268 529h1v1h-1zM383 529h1v1h-1zM473 529h1v1h-1zM538 529h1v1h-1zM613 529h2v1h-2zM711 529h1v1h-1zM730 529h12v1h-12zM858 529h1v1h-1zM9 537h1v1h-1zM127 537h1v1h-1zM512 537h5v1h-5zM627 537h2v1h-2zM699 537h2v1h-2zM799 537h2v1h-2zM807 537h2v1h-2zM107 533h1v1h-1zM158 533h4v1h-4zM165 533h1v1h-1zM249 533h1v1h-1zM261 533h2v1h-2zM482 533h4v1h-4zM522 533h2v1h-2zM525 533h2v1h-2zM535 533h1v1h-1zM620 533h1v1h-1zM705 533h1v1h-1zM854 533h1v1h-1zM284 516h4v1h-4zM348 516h2v1h-2zM362 516h3v1h-3zM411 516h1v1h-1zM413 516h2v1h-2zM423 516h1v1h-1zM443 516h1v1h-1zM594 516h3v1h-3zM766 516h4v1h-4zM781 516h1v1h-1zM8 536h1v1h-1zM114 536h4v1h-4zM126 536h1v1h-1zM504 536h8v1h-8zM517 536h2v1h-2zM531 536h2v1h-2zM625 536h2v1h-2zM701 536h1v1h-1zM797 536h2v1h-2zM809 536h2v1h-2zM154 530h1v1h-1zM169 530h1v1h-1zM226 530h1v1h-1zM230 530h2v1h-2zM245 530h1v1h-1zM266 530h2v1h-2zM382 530h1v1h-1zM474 530h2v1h-2zM537 530h1v1h-1zM615 530h1v1h-1zM709 530h2v1h-2zM857 530h1v1h-1zM69 523h1v1h-1zM82 523h1v1h-1zM196 523h4v1h-4zM219 523h1v1h-1zM277 523h1v1h-1zM306 523h1v1h-1zM310 523h2v1h-2zM394 523h6v1h-6zM405 523h1v1h-1zM466 523h1v1h-1zM547 523h2v1h-2zM563 523h3v1h-3zM604 523h1v1h-1zM755 523h2v1h-2zM787 523h1v1h-1zM876 523h4v1h-4zM885 523h2v1h-2zM24 547h1v1h-1zM36 547h1v1h-1zM647 547h1v1h-1zM656 547h2v1h-2zM670 547h4v1h-4zM25 548h1v1h-1zM34 548h2v1h-2zM648 548h2v1h-2zM655 548h1v1h-1zM674 548h4v1h-4zM834 548h4v1h-4zM40 544h2v1h-2zM640 544h5v1h-5zM660 544h2v1h-2zM689 544h1v1h-1zM4 531h1v1h-1zM57 531h1v1h-1zM105 531h1v1h-1zM155 531h1v1h-1zM168 531h1v1h-1zM227 531h1v1h-1zM229 531h1v1h-1zM246 531h2v1h-2zM264 531h2v1h-2zM381 531h1v1h-1zM476 531h2v1h-2zM616 531h2v1h-2zM708 531h1v1h-1zM793 531h1v1h-1zM856 531h1v1h-1zM128 538h2v1h-2zM629 538h1v1h-1zM696 538h3v1h-3zM801 538h2v1h-2zM805 538h2v1h-2zM27 551h1v1h-1zM29 551h2v1h-2zM652 551h1v1h-1zM822 551h4v1h-4zM843 551h2v1h-2zM31 550h1v1h-1zM651 550h1v1h-1zM653 550h1v1h-1zM682 550h3v1h-3zM826 550h4v1h-4zM840 550h3v1h-3zM354 514h4v1h-4zM367 514h1v1h-1zM441 514h1v1h-1zM578 514h1v1h-1zM586 514h4v1h-4zM370 512h2v1h-2zM426 512h1v1h-1zM580 512h2v1h-2zM11 540h1v1h-1zM48 540h3v1h-3zM131 540h1v1h-1zM632 540h1v1h-1zM692 540h2v1h-2zM23 546h1v1h-1zM37 546h2v1h-2zM646 546h1v1h-1zM658 546h1v1h-1zM666 546h4v1h-4zM687 546h1v1h-1zM427 511h1v1h-1zM439 511h1v1h-1zM428 510h2v1h-2zM438 510h1v1h-1z" fill="#1e90ff" />
</g>
<text x="19.5" y="41" font-size="10.2" fill="#000" textLength="63" lengthAdjust="spacingAndGlyphs" stroke="#000" stroke-width="0.3" >EURUSD,Daily</text>
<text x="89.7" y="41" font-size="10.2" fill="#000" textLength="32.2" lengthAdjust="spacingAndGlyphs" stroke="#000" stroke-width="0.3" >1.13513</text>
<text x="125.6" y="41" font-size="10.2" fill="#000" textLength="32.2" lengthAdjust="spacingAndGlyphs" stroke="#000" stroke-width="0.3" >1.14473</text>
<text x="161.5" y="41" font-size="10.2" fill="#000" textLength="32.2" lengthAdjust="spacingAndGlyphs" stroke="#000" stroke-width="0.3" >1.13465</text>
<text x="197.39999999999998" y="41" font-size="10.2" fill="#000" textLength="32.2" lengthAdjust="spacingAndGlyphs" stroke="#000" stroke-width="0.3" >1.14256</text>
<path d="M7 40H14L10.5 36Z" fill="#000"/>
<text x="8.5" y="404.9" font-size="10.2" fill="#000" textLength="64.6" lengthAdjust="spacingAndGlyphs" stroke="#000" stroke-width="0.3" >MACD(12,26,9)</text>
<text x="77.7" y="405" font-size="10.2" fill="#000" textLength="36.3" lengthAdjust="spacingAndGlyphs" stroke="#000" stroke-width="0.3" >0.000612</text>
<text x="118.7" y="405" font-size="10.2" fill="#000" textLength="40.3" lengthAdjust="spacingAndGlyphs" stroke="#000" stroke-width="0.3" >-0.001329</text>
<text x="8.7" y="467.9" font-size="10.2" fill="#000" textLength="31.5" lengthAdjust="spacingAndGlyphs" stroke="#000" stroke-width="0.3" >RSI(14)</text>
<text x="43.2" y="467.9" font-size="10.2" fill="#000" textLength="32.7" lengthAdjust="spacingAndGlyphs" stroke="#000" stroke-width="0.3" >66.7020</text>
<text x="1172.5" y="61" font-size="10.2" fill="#000" textLength="32.3" lengthAdjust="spacingAndGlyphs" stroke="#000" stroke-width="0.3" >1.15580</text>
<text x="1172.5" y="94" font-size="10.2" fill="#000" textLength="32.3" lengthAdjust="spacingAndGlyphs" stroke="#000" stroke-width="0.3" >1.15190</text>
<text x="1172.5" y="127" font-size="10.2" fill="#000" textLength="32.3" lengthAdjust="spacingAndGlyphs" stroke="#000" stroke-width="0.3" >1.14800</text>
<text x="1172.5" y="160" font-size="10.2" fill="#000" textLength="32.3" lengthAdjust="spacingAndGlyphs" stroke="#000" stroke-width="0.3" >1.14410</text>
<text x="1172.5" y="193" font-size="10.2" fill="#000" textLength="32.3" lengthAdjust="spacingAndGlyphs" stroke="#000" stroke-width="0.3" >1.14020</text>
<text x="1172.5" y="226" font-size="10.2" fill="#000" textLength="32.3" lengthAdjust="spacingAndGlyphs" stroke="#000" stroke-width="0.3" >1.13630</text>
<text x="1172.5" y="259" font-size="10.2" fill="#000" textLength="32.3" lengthAdjust="spacingAndGlyphs" stroke="#000" stroke-width="0.3" >1.13240</text>
<text x="1172.5" y="292" font-size="10.2" fill="#000" textLength="32.3" lengthAdjust="spacingAndGlyphs" stroke="#000" stroke-width="0.3" >1.12850</text>
<text x="1172.5" y="325" font-size="10.2" fill="#000" textLength="32.3" lengthAdjust="spacingAndGlyphs" stroke="#000" stroke-width="0.3" >1.12460</text>
<text x="1172.5" y="358" font-size="10.2" fill="#000" textLength="32.3" lengthAdjust="spacingAndGlyphs" stroke="#000" stroke-width="0.3" >1.12070</text>
<text x="1172.5" y="391" font-size="10.2" fill="#000" textLength="32.3" lengthAdjust="spacingAndGlyphs" stroke="#000" stroke-width="0.3" >1.11680</text>
<rect x="1168" y="164" width="41" height="11" fill="#000" shape-rendering="crispEdges"/>
<text x="1172.5" y="173" font-size="10.2" fill="#fff" textLength="32.3" lengthAdjust="spacingAndGlyphs" stroke="#fff" stroke-width="0.3" >1.14256</text>
<text x="1170.3" y="402.9" font-size="10.2" fill="#000" textLength="37.7" lengthAdjust="spacingAndGlyphs" stroke="#000" stroke-width="0.3" >0.003177</text>
<text x="1171" y="419.3" font-size="10.2" fill="#000" textLength="17" lengthAdjust="spacingAndGlyphs" stroke="#000" stroke-width="0.3" >0.00</text>
<text x="1170" y="449.9" font-size="10.2" fill="#000" textLength="41.5" lengthAdjust="spacingAndGlyphs" stroke="#000" stroke-width="0.3" >-0.005667</text>
<text x="1170.5" y="465.8" font-size="10.2" fill="#000" textLength="14.4" lengthAdjust="spacingAndGlyphs" stroke="#000" stroke-width="0.3" >100</text>
<text x="1169.4" y="502" font-size="10.2" fill="#000" textLength="9.5" lengthAdjust="spacingAndGlyphs" stroke="#000" stroke-width="0.3" >70</text>
<text x="1169.4" y="557" font-size="10.2" fill="#000" textLength="9.5" lengthAdjust="spacingAndGlyphs" stroke="#000" stroke-width="0.3" >30</text>
<text x="1170" y="592.1" font-size="10.2" fill="#000" textLength="4.6" lengthAdjust="spacingAndGlyphs" stroke="#000" stroke-width="0.3" >0</text>
<text x="3.5" y="608" font-size="10.2" fill="#000" textLength="48.2" lengthAdjust="spacingAndGlyphs" stroke="#000" stroke-width="0.3" >8 Nov 2018</text>
<text x="67.5" y="608" font-size="10.2" fill="#000" textLength="53.2" lengthAdjust="spacingAndGlyphs" stroke="#000" stroke-width="0.3" >17 Nov 2018</text>
<text x="131.5" y="608" font-size="10.2" fill="#000" textLength="53" lengthAdjust="spacingAndGlyphs" stroke="#000" stroke-width="0.3" >27 Nov 2018</text>
<text x="195.5" y="608" font-size="10.2" fill="#000" textLength="47.3" lengthAdjust="spacingAndGlyphs" stroke="#000" stroke-width="0.3" >6 Dec 2018</text>
<text x="259.5" y="608" font-size="10.2" fill="#000" textLength="52" lengthAdjust="spacingAndGlyphs" stroke="#000" stroke-width="0.3" >15 Dec 2018</text>
<text x="323.5" y="608" font-size="10.2" fill="#000" textLength="51.7" lengthAdjust="spacingAndGlyphs" stroke="#000" stroke-width="0.3" >25 Dec 2018</text>
<text x="387.5" y="608" font-size="10.2" fill="#000" textLength="44.7" lengthAdjust="spacingAndGlyphs" stroke="#000" stroke-width="0.3" >3 Jan 2019</text>
<text x="451.5" y="608" font-size="10.2" fill="#000" textLength="49.6" lengthAdjust="spacingAndGlyphs" stroke="#000" stroke-width="0.3" >12 Jan 2019</text>
<text x="515.5" y="608" font-size="10.2" fill="#000" textLength="49.6" lengthAdjust="spacingAndGlyphs" stroke="#000" stroke-width="0.3" >22 Jan 2019</text>
<text x="579.5" y="608" font-size="10.2" fill="#000" textLength="49.6" lengthAdjust="spacingAndGlyphs" stroke="#000" stroke-width="0.3" >31 Jan 2019</text>
<text x="643.5" y="608" font-size="10.2" fill="#000" textLength="46.3" lengthAdjust="spacingAndGlyphs" stroke="#000" stroke-width="0.3" >9 Feb 2019</text>
<text x="707.5" y="608" font-size="10.2" fill="#000" textLength="51.3" lengthAdjust="spacingAndGlyphs" stroke="#000" stroke-width="0.3" >19 Feb 2019</text>
<text x="771.5" y="608" font-size="10.2" fill="#000" textLength="51.1" lengthAdjust="spacingAndGlyphs" stroke="#000" stroke-width="0.3" >28 Feb 2019</text>
<text x="835.5" y="608" font-size="10.2" fill="#000" textLength="46.4" lengthAdjust="spacingAndGlyphs" stroke="#000" stroke-width="0.3" >9 Mar 2019</text>
<text x="899.5" y="608" font-size="10.2" fill="#000" textLength="51.5" lengthAdjust="spacingAndGlyphs" stroke="#000" stroke-width="0.3" >19 Mar 2019</text>
<g shape-rendering="crispEdges">
<path d="M7 49H59V73H116V113H7Z" fill="url(#gr)"/>
<path d="M7.5 49.5H58.5V73.5H115.5V112.5H7.5Z" fill="none" stroke="#c41a1a" stroke-width="1"/>
<path d="M174 49H226V113H118V73H174Z" fill="url(#gr)"/>
<path d="M174.5 49.5H225.5V112.5H118.5V73.5H174.5Z" fill="none" stroke="#c41a1a" stroke-width="1"/>
<rect x="11" y="72" width="45" height="1" fill="#8c1010" />
<rect x="11" y="73" width="45" height="1" fill="#f06060" />
<rect x="178" y="72" width="44" height="1" fill="#8c1010" />
<rect x="178" y="73" width="44" height="1" fill="#f06060" />
<rect x="61" y="49" width="111" height="21" fill="#fff" stroke="#a8a8a8" stroke-width="1" transform="translate(0.5,0.5)"/>
<rect x="63" y="51" width="18" height="18" fill="url(#gb)" stroke="#b8b8b8" stroke-width="1" transform="translate(0.5,0.5)"/>
<rect x="152" y="51" width="18" height="18" fill="url(#gb)" stroke="#b8b8b8" stroke-width="1" transform="translate(0.5,0.5)"/>
</g>
<path d="M69 58H74L71.5 61Z" fill="#3c50c0"/>
<path d="M158 61H163L160.5 58Z" fill="#3c50c0"/>
<text x="123.3" y="63.4" font-size="11.5" fill="#00082c" textLength="23.3" lengthAdjust="spacingAndGlyphs" >0.05</text>
<text x="19.6" y="64.7" font-size="12.3" fill="#ffe8e8" textLength="25" lengthAdjust="spacingAndGlyphs" >SELL</text>
<text x="187.7" y="64.7" font-size="12.3" fill="#ffe8e8" textLength="24" lengthAdjust="spacingAndGlyphs" >BUY</text>
<text x="27.4" y="103.8" font-size="12" fill="#fff" textLength="23.2" lengthAdjust="spacingAndGlyphs" font-weight="bold" >1.14</text>
<text x="137.4" y="103.8" font-size="12" fill="#fff" textLength="23.2" lengthAdjust="spacingAndGlyphs" font-weight="bold" >1.14</text>
<text x="56" y="103.8" font-size="35.5" fill="#fff" textLength="32.6" lengthAdjust="spacingAndGlyphs" stroke="url(#gr)" stroke-width="0.5" paint-order="fill stroke">25</text>
<text x="166" y="103.8" font-size="35.5" fill="#fff" textLength="33.8" lengthAdjust="spacingAndGlyphs" stroke="url(#gr)" stroke-width="0.5" paint-order="fill stroke">27</text>
<text x="93.8" y="87.7" font-size="11.2" fill="#fff" textLength="7.5" lengthAdjust="spacingAndGlyphs" font-weight="bold" >6</text>
<text x="204.9" y="87.7" font-size="11.2" fill="#fff" textLength="7" lengthAdjust="spacingAndGlyphs" font-weight="bold" >4</text>
<g shape-rendering="crispEdges">
<rect x="0" y="616" width="1210" height="1" fill="#e6e6e6" />
<rect x="0" y="619" width="1210" height="24" fill="#f0f0f0" />
<rect x="0" y="618" width="1210" height="1" fill="#000" />
<rect x="0" y="619" width="1210" height="1" fill="#fcfcfc" />
<rect x="0" y="639" width="1210" height="1" fill="#fafafa" />
<rect x="0" y="640" width="1210" height="1" fill="#e0e0e0" />
<rect x="0" y="641" width="1210" height="1" fill="#c8c8c8" />
<rect x="0" y="642" width="1210" height="1" fill="#a0a0a0" />
<rect x="5" y="618" width="104" height="19" fill="#fff" />
<rect x="5" y="618" width="1" height="19" fill="#000" />
<rect x="108" y="618" width="1" height="19" fill="#000" />
<rect x="5" y="636" width="104" height="1" fill="#000" />
<rect x="0" y="619" width="1" height="18" fill="#606060" />
<rect x="1" y="619" width="1" height="18" fill="#fafafa" />
<rect x="2" y="619" width="2" height="18" fill="#dcdcdc" />
<rect x="4" y="619" width="1" height="18" fill="#fafafa" />
</g>
<text x="17.6" y="632.8" font-size="12.5" fill="#000" textLength="79.5" lengthAdjust="spacingAndGlyphs" >EURUSD,Daily</text>
<g clip-path="url(#ct)">
<text x="119.8" y="632.8" font-size="12.5" fill="#6a6a6a" textLength="82" lengthAdjust="spacingAndGlyphs" >AUDUSD,Daily</text>
<text x="223.4" y="632.8" font-size="12.5" fill="#6a6a6a" textLength="78" lengthAdjust="spacingAndGlyphs" >USDCHF,Daily</text>
<text x="324.8" y="632.8" font-size="12.5" fill="#6a6a6a" textLength="81.2" lengthAdjust="spacingAndGlyphs" >USDCAD,Daily</text>
<text x="427.1" y="632.8" font-size="12.5" fill="#6a6a6a" textLength="71.1" lengthAdjust="spacingAndGlyphs" >USDCNH,H4</text>
<text x="519" y="632.8" font-size="12.5" fill="#6a6a6a" textLength="75.4" lengthAdjust="spacingAndGlyphs" >USDJPY,Daily</text>
<text x="615.9" y="632.8" font-size="12.5" fill="#6a6a6a" textLength="68.4" lengthAdjust="spacingAndGlyphs" >XAUUSD,H1</text>
<text x="709" y="632.8" font-size="12.5" fill="#6a6a6a" textLength="67.9" lengthAdjust="spacingAndGlyphs" >GBPUSD,H4</text>
<text x="801.7" y="632.8" font-size="12.5" fill="#6a6a6a" textLength="62.7" lengthAdjust="spacingAndGlyphs" >SP500,M15</text>
<text x="888.8" y="632.8" font-size="12.5" fill="#6a6a6a" textLength="80" lengthAdjust="spacingAndGlyphs" >GBPUSD,Daily</text>
<text x="991.5" y="632.8" font-size="12.5" fill="#6a6a6a" textLength="46.4" lengthAdjust="spacingAndGlyphs" >DJ30,H4</text>
<text x="1059.2" y="632.8" font-size="12.5" fill="#6a6a6a" textLength="70.2" lengthAdjust="spacingAndGlyphs" >TECH100,H1</text>
<text x="1153.1" y="632.8" font-size="12.5" fill="#6a6a6a" textLength="55" lengthAdjust="spacingAndGlyphs" >UKOIL,H1</text>
</g>
<g shape-rendering="crispEdges">
<rect x="213" y="621" width="1" height="14" fill="#808080" />
<rect x="313" y="621" width="1" height="14" fill="#808080" />
<rect x="417" y="621" width="1" height="14" fill="#808080" />
<rect x="509" y="621" width="1" height="14" fill="#808080" />
<rect x="605" y="621" width="1" height="14" fill="#808080" />
<rect x="696" y="621" width="1" height="14" fill="#808080" />
<rect x="791" y="621" width="1" height="14" fill="#808080" />
<rect x="877" y="621" width="1" height="14" fill="#808080" />
<rect x="981" y="621" width="1" height="14" fill="#808080" />
<rect x="1049" y="621" width="1" height="14" fill="#808080" />
<rect x="1141" y="621" width="1" height="14" fill="#808080" />
</g>
<path d="M1186 626L1182.5 629.5L1186 633Z" fill="#a0a0a0"/>
<path d="M1199 625L1203.5 629.5L1199 634Z" fill="#000"/>
</svg></body></html>
